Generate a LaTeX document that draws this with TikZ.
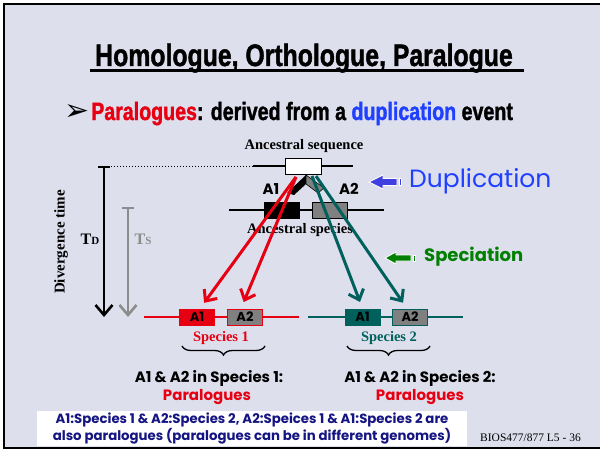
\documentclass[tikz,border=0pt]{standalone}
\usepackage{fontspec}
\setmainfont{Liberation Serif}
\newfontfamily\headfont{Liberation Sans}[UprightFont={* Bold}, FakeBold=1.6]
\newfontfamily\comicfont{Poppins}
\newfontfamily\symfont{DejaVu Sans}
\usetikzlibrary{arrows.meta,decorations.pathreplacing}
\definecolor{slidebg}{RGB}{222,223,237}
\definecolor{parared}{RGB}{230,0,18}
\definecolor{specteal}{RGB}{0,96,92}
\definecolor{genegrey}{RGB}{128,128,128}
\definecolor{dupblue}{RGB}{32,64,255}
\definecolor{duparrow}{RGB}{64,64,224}
\definecolor{specgreen}{RGB}{0,128,0}
\definecolor{notenavy}{RGB}{20,20,130}
\definecolor{tsgrey}{RGB}{140,140,140}
\begin{document}
\begin{tikzpicture}[x=1pt,y=-1pt,
  seqline/.style={line width=1.6pt},
  gene/.style={draw, line width=1pt, minimum width=35pt, minimum height=16pt,
    inner sep=0pt, font=\comicfont\bfseries\fontsize{13}{13}\selectfont},
  evolarrow/.style={line width=3pt, -{Straight Barb[length=9pt,width=16pt]}},
  serifhead/.style={font=\bfseries\fontsize{14.5}{15}\selectfont, inner sep=0pt},
  comiclabel/.style={font=\comicfont\bfseries\fontsize{15}{16}\selectfont, inner sep=0pt},
  timearrow/.style={line width=2.6pt, -{Straight Barb[length=10pt,width=17pt]}},
  brace/.style={line width=1.3pt, decorate, decoration={brace, amplitude=9pt, mirror}},
]
\useasboundingbox (0,0) rectangle (600,452);
\clip (0,0) rectangle (600,452);
% slide background and frame
\fill[white] (0,0) rectangle (600,452);
\fill[slidebg] (4,4) rectangle (620,448);
\draw[line width=2.6pt] (4,4) rectangle (620,448);

% title
\node[anchor=base, inner sep=0pt, font=\headfont\fontsize{31}{33}\selectfont]
  (title) at (304,66) {\scalebox{0.8}[1]{Homologue, Orthologue, Paralogue}};
\draw[line width=2.2pt] (90,70.5) -- (524,70.5);

% subtitle
\node[anchor=base east, inner sep=0pt, font=\symfont\fontsize{30}{30}\selectfont]
  (bullet) at (90,121) {➢};
\node[anchor=base west, inner sep=0pt, font=\headfont\fontsize{25}{27}\selectfont]
  (sub) at (91,120) {\scalebox{0.785}[1]{\textcolor{parared}{Paralogues}: derived from a \textcolor{dupblue}{duplication} event}};

% ancestral sequence
\node[serifhead] (anclabel) at (304,146) {Ancestral sequence};
\coordinate (seqL) at (253,166);
\coordinate (seqR) at (353,166);
\draw[seqline] (seqL) -- (seqR);
\node[draw, fill=white, line width=1pt, minimum width=36pt, minimum height=16pt, inner sep=0pt]
  (anc) at (303,166) {};
\coordinate (dotL) at (108,166);
\draw[dotted, line width=1pt] (dotL) -- (seqL);

% duplication chevron
\fill[black] (306,175) -- (287,193) -- (294,195) -- (306,184) -- cycle;
\filldraw[fill=genegrey, draw=black, line width=0.6pt] (306,175) -- (324,188) -- (318,193) -- (306,184) -- cycle;

% ancestral species
\coordinate (aspL) at (229,210);
\coordinate (aspR) at (384,210);
\draw[seqline] (aspL) -- (aspR);
\node[gene, fill=black] (ancA1) at (282,210) {};
\node[gene, fill=genegrey] (ancA2) at (330,210) {};
\node[comiclabel] (ancA1lab) at (271,189) {A1};
\node[comiclabel] (ancA2lab) at (349,189) {A2};
\node[serifhead] (asplabel) at (300,230) {Ancestral species};

% species 1
\coordinate (s1L) at (144,317);
\coordinate (s1R) at (299,317);
\draw[parared, line width=1.6pt] (s1L) -- (s1R);
\node[gene, draw=parared, fill=parared] (s1A1) at (197,317) {A1};
\node[gene, draw=parared, fill=genegrey] (s1A2) at (245,317) {A2};
% species 2
\coordinate (s2L) at (308,317);
\coordinate (s2R) at (463,317);
\draw[specteal, line width=1.6pt] (s2L) -- (s2R);
\node[gene, draw=specteal, fill=specteal] (s2A1) at (362.5,317) {A1};
\node[gene, draw=specteal, fill=genegrey] (s2A2) at (410,317) {A2};

% gene tree arrows
\coordinate (dupR) at (296,177);
\coordinate (spcL) at (312,176);
\coordinate (spcR) at (316,176);
\draw[evolarrow, parared, shorten >=7pt] (dupR) -- ([xshift=3pt]s1A1.north);
\draw[evolarrow, parared, shorten >=7pt] (dupR) -- ([xshift=-4pt]s1A2.north);
\draw[evolarrow, specteal, shorten >=7pt] (spcL) -- (s2A1.north);
\draw[evolarrow, specteal, shorten >=7pt] (spcR) -- ([xshift=-3pt]s2A2.north);

% divergence time axis
\node[rotate=90, font=\bfseries\fontsize{15}{15}\selectfont, inner sep=0pt] (divlab) at (61,242) {Divergence time};
\coordinate (tdTop) at (104,167);
\coordinate (tdBot) at (104,317);
\draw[line width=2.6pt] (98,167) -- (110,167);
\draw[timearrow] (tdTop) -- (tdBot);
\node[font=\bfseries\fontsize{16}{16}\selectfont, inner sep=0pt] (tdlab) at (90,239) {T\fontsize{11}{11}\selectfont D};
\coordinate (tsTop) at (128,208);
\coordinate (tsBot) at (128,317);
\draw[tsgrey, line width=2.6pt] (122,208) -- (134,208);
\draw[timearrow, tsgrey] (tsTop) -- (tsBot);
\node[font=\bfseries\fontsize{16}{16}\selectfont, text=tsgrey, inner sep=0pt] (tslab) at (143,239) {T\fontsize{11}{11}\selectfont S};

% event markers
\filldraw[fill=duparrow, draw=white, line width=0.8pt]
  (369,182) -- (383,175) -- (383,178.5) -- (397,178.5) -- (397,185.5) -- (383,185.5) -- (383,189) -- cycle;
\filldraw[fill=duparrow, draw=white, line width=0.6pt] (399,178.5) rectangle (401.5,185.5);
\node[anchor=west, inner sep=0pt, text=dupblue, font=\comicfont\fontsize{25}{25}\selectfont] (duplab) at (409,181) {Duplication};
\filldraw[fill=specgreen, draw=white, line width=0.8pt]
  (385,258) -- (396,252) -- (396,255) -- (411,255) -- (411,261) -- (396,261) -- (396,264) -- cycle;
\filldraw[fill=specgreen, draw=white, line width=0.6pt] (413,255) rectangle (415.5,261);
\node[anchor=west, inner sep=0pt, text=specgreen, font=\comicfont\bfseries\fontsize{18}{18}\selectfont] (spelab) at (424,257) {Speciation};

% species labels and braces
\node[serifhead, text=parared] (sp1) at (221,338) {Species 1};
\node[serifhead, text=specteal] (sp2) at (389,338) {Species 2};
\draw[brace] (182,346) -- (265,346);
\draw[brace] (347,346) -- (430,346);
\node[comiclabel, anchor=base] (in1) at (209,382) {A1 \& A2 in Species 1:};
\node[comiclabel, anchor=base, text=parared] (par1) at (207,400) {Paralogues};
\node[comiclabel, anchor=base] (in2) at (420,382) {A1 \& A2 in Species 2:};
\node[comiclabel, anchor=base, text=parared] (par2) at (420,400) {Paralogues};

% note box
\node[fill=white, minimum width=430pt, minimum height=35pt, inner sep=0pt, align=center,
  text=notenavy, font=\comicfont\bfseries\fontsize{13.3}{15.5}\selectfont] (note) at (252,428.5)
  {A1:Species 1 \& A2:Species 2, A2:Speices 1 \& A1:Species 2 are\\
   also paralogues (paralogues can be in different genomes)};
\node[anchor=base west, inner sep=0pt, font=\fontsize{11.5}{12}\selectfont] (footer) at (480,441) {BIOS477/877 L5 - 36};
\end{tikzpicture}
\end{document}
